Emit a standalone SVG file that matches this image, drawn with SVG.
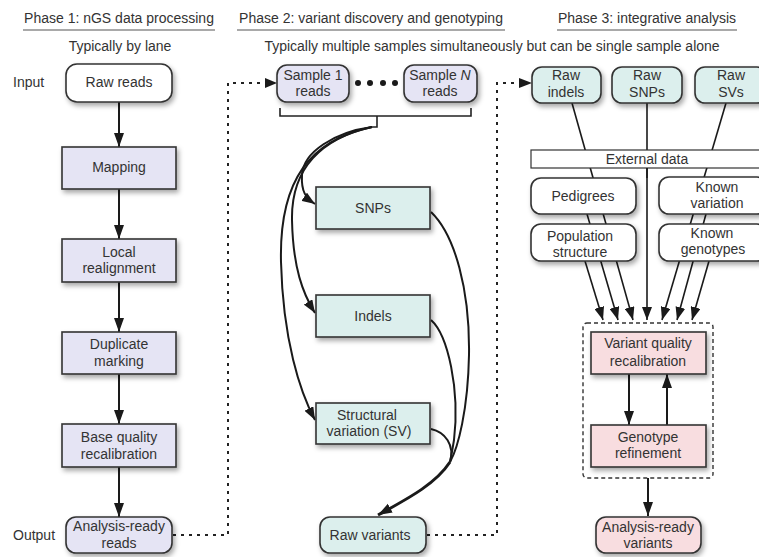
<svg xmlns="http://www.w3.org/2000/svg" width="759" height="557" viewBox="0 0 759 557">
<style>
text{font-family:"Liberation Sans",Arial,sans-serif;font-size:14px;fill:#333;text-anchor:middle}
.lbl{text-anchor:start}
.box{stroke:#333;stroke-width:1.6}
.lav{fill:#e5e4f4}
.teal{fill:#dcefed}
.pink{fill:#f8dde0}
.wht{fill:#fff}
.ln{fill:none;stroke:#1a1a1a;stroke-width:2}
.thin{fill:none;stroke:#1a1a1a;stroke-width:1.6}
.dot{fill:none;stroke:#222;stroke-width:2;stroke-dasharray:3 5}
.uline{stroke:#555;stroke-width:1.2}
</style>
<defs>
<filter id="sh" x="-20%" y="-20%" width="150%" height="160%">
<feDropShadow dx="2" dy="3" stdDeviation="2.5" flood-color="#000" flood-opacity="0.35"/>
</filter>
<marker id="ah" viewBox="0 0 13 10" refX="13" refY="5" markerWidth="13" markerHeight="10" markerUnits="userSpaceOnUse" orient="auto">
<path d="M0,0 L13,5 L0,10 z" fill="#1a1a1a"/>
</marker>
<marker id="ahL" viewBox="0 0 14 10" refX="14" refY="5" markerWidth="14" markerHeight="11" markerUnits="userSpaceOnUse" orient="auto">
<path d="M0,0 L14,5 L0,10 z" fill="#1a1a1a"/>
</marker>
</defs>

<g id="headers">
<text x="119" y="23">Phase 1: nGS data processing</text>
<line class="uline" x1="23" y1="30" x2="215" y2="30"/>
<text x="371" y="23">Phase 2: variant discovery and genotyping</text>
<line class="uline" x1="237" y1="30" x2="505" y2="30"/>
<text x="647" y="23">Phase 3: integrative analysis</text>
<line class="uline" x1="557" y1="30" x2="737" y2="30"/>
<text x="120" y="51">Typically by lane</text>
<text x="492" y="51">Typically multiple samples simultaneously but can be single sample alone</text>
<text class="lbl" x="13" y="87">Input</text>
<text class="lbl" x="13" y="540">Output</text>
</g>

<g id="connectors">
<line class="ln" x1="119" y1="102" x2="119" y2="147" marker-end="url(#ahL)"/>
<line class="ln" x1="119" y1="189" x2="119" y2="239" marker-end="url(#ahL)"/>
<line class="ln" x1="119" y1="282" x2="119" y2="332" marker-end="url(#ahL)"/>
<line class="ln" x1="119" y1="374" x2="119" y2="424" marker-end="url(#ahL)"/>
<line class="ln" x1="119" y1="467" x2="119" y2="517" marker-end="url(#ahL)"/>
<path class="dot" d="M173,535 H228 V83 H266"/>
<path d="M265,78 L277,83 L265,88 z" fill="#1a1a1a"/>
<path class="dot" d="M427,535 H497 V83 H520"/>
<path d="M519,78 L532,83 L519,88 z" fill="#1a1a1a"/>
<path fill="none" stroke="#222" stroke-width="1.6" d="M280,108 V116 H471 V108 M377,116 V127 H371"/>
<path class="ln" d="M372,127 C335,132 303,152 302,175 C301,192 306,198 315,204" marker-end="url(#ah)"/>
<path class="ln" d="M372,127 C322,138 291,168 292,220 C293,268 303,294 315,313" marker-end="url(#ah)"/>
<path class="ln" d="M372,127 C310,140 279,180 281,262 C283,340 300,392 315,420" marker-end="url(#ah)"/>
<path class="ln" d="M431,212 C455,235 470,290 469,355 C468,410 458,448 450,462"/>
<path class="ln" d="M431,320 C448,335 460,390 454,440 C452,452 451,458 450,462"/>
<path class="ln" d="M431,429 C445,432 455,445 450,462"/>
<path fill="none" stroke="#1a1a1a" stroke-width="3" d="M450,462 C435,485 405,500 378,515" marker-end="url(#ahL)"/>
<line class="thin" x1="572" y1="103" x2="633" y2="320" marker-end="url(#ah)"/>
<line class="thin" x1="587" y1="214" x2="618" y2="320" marker-end="url(#ah)"/>
<line class="thin" x1="585" y1="261" x2="603" y2="320" marker-end="url(#ah)"/>
<line class="thin" x1="647" y1="103" x2="647" y2="320" marker-end="url(#ah)"/>
<line class="thin" x1="726" y1="103" x2="662" y2="320" marker-end="url(#ah)"/>
<line class="thin" x1="706" y1="214" x2="677" y2="320" marker-end="url(#ah)"/>
<line class="thin" x1="709" y1="261" x2="692" y2="320" marker-end="url(#ah)"/>
<rect x="583" y="323" width="130" height="155" rx="4" fill="none" stroke="#333" stroke-width="1.4" stroke-dasharray="4 3"/>
<line class="ln" x1="629" y1="374" x2="629" y2="425" marker-end="url(#ahL)"/>
<line class="ln" x1="667" y1="425" x2="667" y2="374" marker-end="url(#ahL)"/>
<line class="ln" x1="648" y1="478" x2="648" y2="516" marker-end="url(#ahL)"/>
</g>

<g id="raw-reads"><rect class="box wht" filter="url(#sh)" x="66" y="64" width="106" height="38" rx="11"/><text x="119" y="87">Raw reads</text></g>
<g id="mapping"><rect class="box lav" filter="url(#sh)" x="62" y="147" width="114" height="42"/><text x="119" y="172">Mapping</text></g>
<g id="local-realignment"><rect class="box lav" filter="url(#sh)" x="62" y="239" width="114" height="43"/><text x="119" y="257">Local</text><text x="119" y="273">realignment</text></g>
<g id="duplicate-marking"><rect class="box lav" filter="url(#sh)" x="62" y="332" width="114" height="42"/><text x="119" y="349">Duplicate</text><text x="119" y="366">marking</text></g>
<g id="base-quality"><rect class="box lav" filter="url(#sh)" x="62" y="424" width="114" height="43"/><text x="119" y="442">Base quality</text><text x="119" y="459">recalibration</text></g>
<g id="analysis-ready-reads"><rect class="box lav" filter="url(#sh)" x="66" y="517" width="106" height="36" rx="10"/><text x="119" y="531">Analysis-ready</text><text x="119" y="548">reads</text></g>

<g id="sample-1"><rect class="box lav" filter="url(#sh)" x="277" y="65" width="72" height="37" rx="10"/><text x="313" y="80">Sample 1</text><text x="313" y="96">reads</text></g>
<g id="dots"><circle cx="358" cy="83" r="3" fill="#1a1a1a"/><circle cx="370" cy="83" r="3" fill="#1a1a1a"/><circle cx="383" cy="83" r="3" fill="#1a1a1a"/><circle cx="395" cy="83" r="3" fill="#1a1a1a"/></g>
<g id="sample-n"><rect class="box lav" filter="url(#sh)" x="404" y="65" width="73" height="37" rx="10"/><text x="440" y="80">Sample <tspan font-style="italic">N</tspan></text><text x="440" y="96">reads</text></g>
<g id="snps"><rect class="box teal" filter="url(#sh)" x="316" y="187" width="114" height="42"/><text x="373" y="213">SNPs</text></g>
<g id="indels"><rect class="box teal" filter="url(#sh)" x="316" y="295" width="114" height="42"/><text x="373" y="321">Indels</text></g>
<g id="sv"><rect class="box teal" filter="url(#sh)" x="316" y="403" width="114" height="41"/><text x="367" y="420">Structural</text><text x="369" y="436">variation (SV)</text></g>
<g id="raw-variants"><rect class="box teal" filter="url(#sh)" x="320" y="517" width="106" height="36" rx="10"/><text x="370" y="540">Raw variants</text></g>

<g id="raw-indels"><rect class="box teal" filter="url(#sh)" x="532" y="67" width="69" height="36" rx="10"/><text x="566" y="80">Raw</text><text x="566" y="97">indels</text></g>
<g id="raw-snps"><rect class="box teal" filter="url(#sh)" x="612" y="67" width="70" height="36" rx="10"/><text x="647" y="80">Raw</text><text x="647" y="97">SNPs</text></g>
<g id="raw-svs"><rect class="box teal" filter="url(#sh)" x="695" y="67" width="72" height="36" rx="10"/><text x="731" y="80">Raw</text><text x="731" y="97">SVs</text></g>
<g id="external-data"><rect x="531" y="150" width="235" height="18" fill="#fff" stroke="#333" stroke-width="1.2"/><text x="647" y="164" font-size="13">External data</text></g>
<line class="thin" x1="647" y1="168" x2="647" y2="178"/>
<g id="pedigrees"><rect class="box wht" filter="url(#sh)" x="531" y="178" width="105" height="36" rx="10"/><text x="583" y="201">Pedigrees</text></g>
<g id="known-variation"><rect class="box wht" filter="url(#sh)" x="659" y="177" width="108" height="37" rx="10"/><text x="717" y="192">Known</text><text x="717" y="208">variation</text></g>
<g id="population-structure"><rect class="box wht" filter="url(#sh)" x="531" y="224" width="105" height="37" rx="10"/><text x="580" y="241">Population</text><text x="580" y="257">structure</text></g>
<g id="known-genotypes"><rect class="box wht" filter="url(#sh)" x="659" y="224" width="108" height="37" rx="10"/><text x="712" y="238">Known</text><text x="713" y="254">genotypes</text></g>
<g id="variant-quality"><rect class="box pink" filter="url(#sh)" x="591" y="332" width="115" height="42"/><text x="648" y="348">Variant quality</text><text x="648" y="366">recalibration</text></g>
<g id="genotype-refinement"><rect class="box pink" filter="url(#sh)" x="591" y="425" width="115" height="42"/><text x="648" y="442">Genotype</text><text x="648" y="458">refinement</text></g>
<g id="analysis-ready-variants"><rect class="box pink" filter="url(#sh)" x="596" y="517" width="105" height="36" rx="10"/><text x="648" y="532">Analysis-ready</text><text x="648" y="548">variants</text></g>
</svg>
